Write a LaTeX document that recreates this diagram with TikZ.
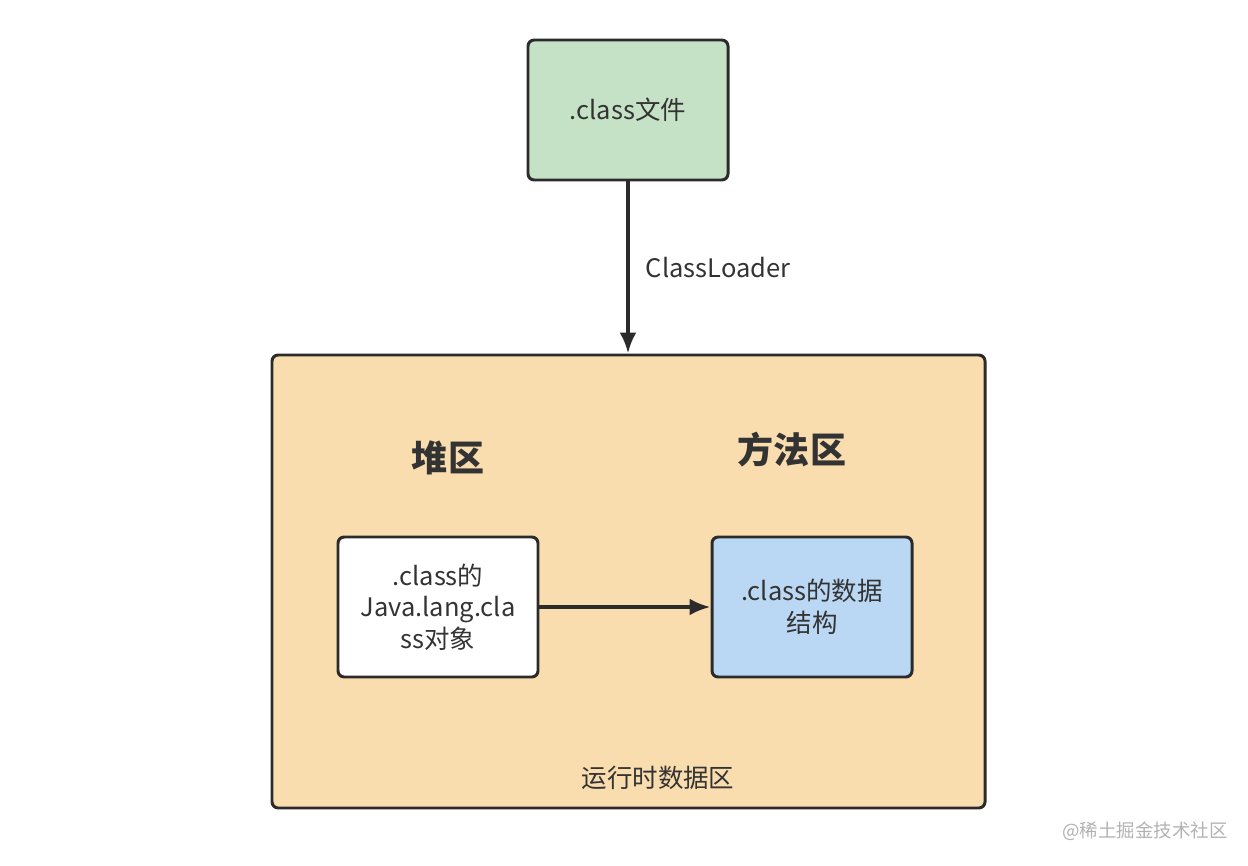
\documentclass[tikz,border=0pt]{standalone}
\usepackage{fontspec}
\setmainfont{Noto Sans CJK SC}
\usetikzlibrary{arrows.meta,positioning}
\definecolor{jgreen}{HTML}{C6E2C6}
\definecolor{jpeach}{HTML}{F9DDAF}
\definecolor{jblue}{HTML}{BAD7F3}
\definecolor{jline}{HTML}{2B2B2B}
\definecolor{jtext}{HTML}{333333}
\begin{document}
\begin{tikzpicture}[every node/.style={font=\fontsize{14.5}{18}\selectfont,align=center,text=jtext}, box/.style={draw=jline,line width=1.7pt,rounded corners=3.5pt,minimum width=4cm,minimum height=2.8cm,inner sep=2pt}, title/.style={font=\fontsize{20.5}{24}\selectfont\bfseries}, arr/.style={-{Latex[length=4.2mm,width=3.4mm]},draw=jline,line width=2.2pt}]
\useasboundingbox (0,0) rectangle (24.96,-17.32);
\node[box,fill=jpeach,minimum width=14.26cm,minimum height=9.06cm] (rtarea) at (12.57,-11.63) {};
\node[box,fill=jgreen] (classfile) at (12.56,-2.2) {.class文件};
\node[title] (heap) at (8.96,-9.16) {堆区};
\node[title] (method) at (15.84,-9.0) {方法区};
\node[box,fill=white] (obj) at (8.76,-12.14) {.class的\\Java.lang.cla\\ss对象};
\node[box,fill=jblue] (struct) at (16.24,-12.14) {.class的数据\\结构};
\node (rtlabel) at (13.16,-15.56) {运行时数据区};
\node[font=\fontsize{10.5}{12}\selectfont,text=black!30] (mark) at (22.9,-16.62) {@稀土掘金技术社区};
\draw[arr] (classfile.south) -- node[right=2mm] {ClassLoader} (classfile.south |- rtarea.north);
\draw[arr] (obj.east) -- (struct.west);
\end{tikzpicture}
\end{document}
